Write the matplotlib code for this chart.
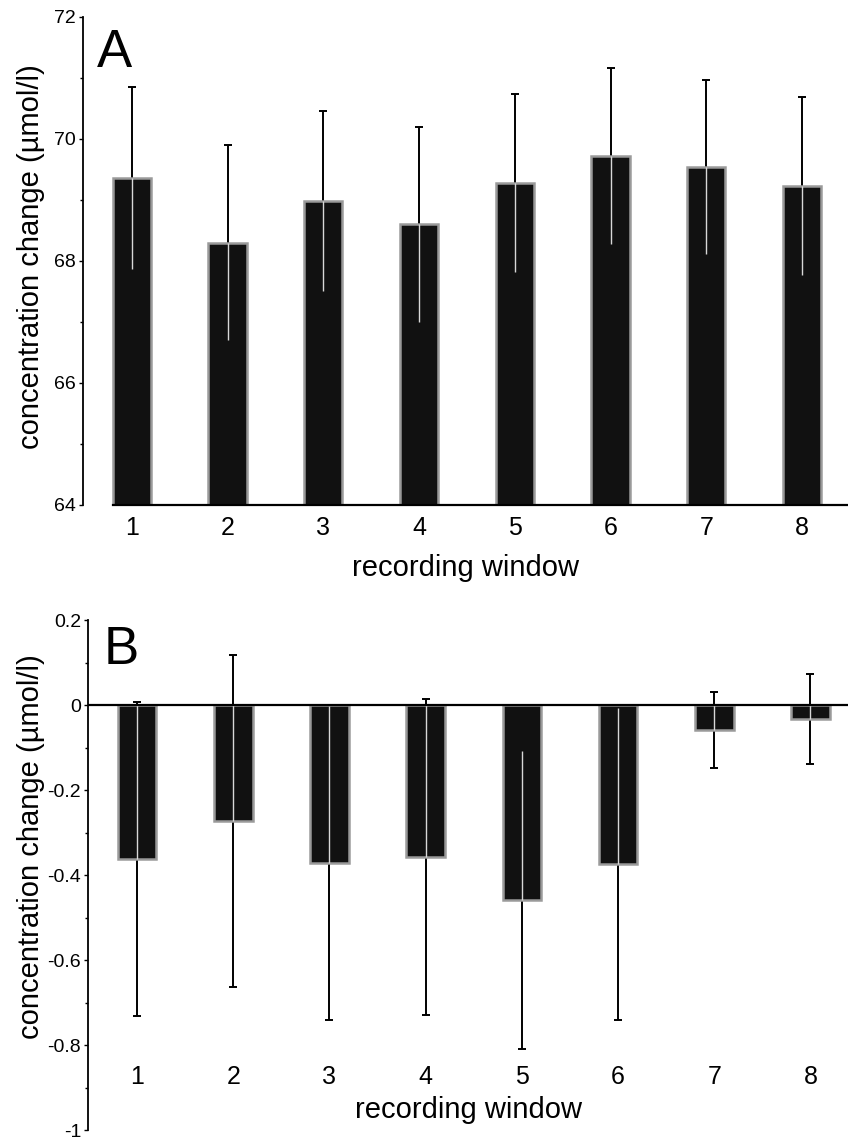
import numpy as np
import matplotlib
matplotlib.use("Agg")
import matplotlib.pyplot as plt

plt.rcParams["font.family"] = ["Liberation Sans", "DejaVu Sans"]

windows = [1, 2, 3, 4, 5, 6, 7, 8]
tick_labels = ["1", "2", "3", "4", "5", "6", "7", "8"]

# panel A: absolute concentration change (umol/l)
a_mean = [69.36, 68.30, 68.98, 68.60, 69.28, 69.72, 69.54, 69.23]
a_err = [1.49, 1.60, 1.48, 1.60, 1.46, 1.44, 1.43, 1.46]

# panel B: relative concentration change (umol/l)
b_mean = [-0.362, -0.273, -0.372, -0.358, -0.459, -0.374, -0.059, -0.033]
b_err = [0.370, 0.390, 0.370, 0.372, 0.350, 0.366, 0.090, 0.105]

bar_face = "#111111"
bar_edge = "#9a9a9a"
width = 0.4
label_size = 21
ytick_size = 14

fig = plt.figure(figsize=(8.48, 11.44), dpi=100)

# ---------- panel A ----------
axA = fig.add_axes([0.0979, 0.5586, 0.9021, 0.4266])
x = np.array(windows)
a_mean = np.array(a_mean)
a_err = np.array(a_err)
axA.errorbar(x, a_mean, yerr=a_err, fmt="none", ecolor="black", elinewidth=1.4,
             capsize=3, capthick=1.4, zorder=1)
axA.bar(x, a_mean - 64, bottom=64, width=width, color=bar_face, edgecolor=bar_edge,
        linewidth=1.8, zorder=2)
# error bar shows as a light line inside the dark bars
axA.vlines(x, np.maximum(a_mean - a_err, 64), a_mean, color="#d8d8d8", linewidth=1.0, zorder=3)
axA.set_xlim(0.49, 8.48)
axA.set_ylim(64, 72)
axA.set_yticks([64, 66, 68, 70, 72])
axA.set_yticks([65, 67, 69, 71], minor=True)
axA.set_xticks(x)
axA.set_xticklabels(tick_labels, fontsize=18)
axA.tick_params(axis="x", length=0, pad=8)
axA.tick_params(axis="y", labelsize=ytick_size, length=3, width=1, pad=2)
axA.tick_params(axis="y", which="minor", length=2, width=1)
axA.spines["top"].set_visible(False)
axA.spines["right"].set_visible(False)
axA.spines["left"].set_linewidth(1.3)
axA.spines["bottom"].set_linewidth(1.6)
axA.spines["bottom"].set_bounds(0.8, 8.48)
axA.set_xlabel("recording window", fontsize=label_size, labelpad=10)
axA.set_ylabel("concentration change (µmol/l)", fontsize=label_size)
axA.yaxis.set_label_coords(-0.05, 0.508)
axA.text(0.018, 0.977, "A", transform=axA.transAxes, fontsize=38, va="top", ha="left")

# ---------- panel B ----------
axB = fig.add_axes([0.1038, 0.0122, 0.8962, 0.4458])
b_mean = np.array(b_mean)
b_err = np.array(b_err)
axB.errorbar(x, b_mean, yerr=b_err, fmt="none", ecolor="black", elinewidth=1.4,
             capsize=3, capthick=1.4, zorder=1)
axB.bar(x, b_mean, width=width, color=bar_face, edgecolor=bar_edge, linewidth=1.8, zorder=2)
axB.vlines(x, b_mean, np.minimum(b_mean + b_err, 0), color="#d8d8d8", linewidth=1.0, zorder=3)
axB.axhline(0, color="black", linewidth=1.6, zorder=4)
axB.set_xlim(0.49, 8.39)
axB.set_ylim(-1, 0.2)
axB.set_yticks([-1, -0.8, -0.6, -0.4, -0.2, 0, 0.2])
axB.set_yticklabels(["-1", "-0.8", "-0.6", "-0.4", "-0.2", "0", "0.2"])
axB.set_yticks([-0.9, -0.7, -0.5, -0.3, -0.1, 0.1], minor=True)
axB.set_xticks([])
axB.tick_params(axis="y", labelsize=ytick_size, length=3, width=1, pad=2)
axB.tick_params(axis="y", which="minor", length=2, width=1)
for side in ["top", "right", "bottom"]:
    axB.spines[side].set_visible(False)
axB.spines["left"].set_linewidth(1.3)
for xi, lab in zip(x, tick_labels):
    axB.text(xi, -0.875, lab, fontsize=18, ha="center", va="center")
axB.text(0.5, 0.04, "recording window", transform=axB.transAxes, fontsize=label_size,
         ha="center", va="center")
axB.set_ylabel("concentration change (µmol/l)", fontsize=label_size)
axB.yaxis.set_label_coords(-0.057, 0.555)
axB.text(0.02, 0.99, "B", transform=axB.transAxes, fontsize=38, va="top", ha="left")

fig.savefig("out.png", dpi=100)
